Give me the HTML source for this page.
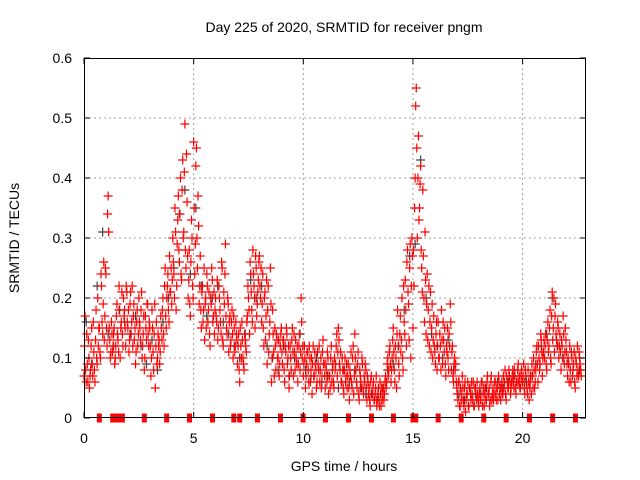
<!DOCTYPE html>
<html><head><meta charset="utf-8">
<style>
html,body{margin:0;padding:0;background:#fff;}
svg{display:block;font-family:"Liberation Sans",sans-serif;}
</style></head>
<body>
<svg id="chart" width="640" height="480" viewBox="0 0 640 480" xmlns="http://www.w3.org/2000/svg">
<rect width="640" height="480" fill="#fff"/>
<text x="344" y="32" font-size="14" text-anchor="middle">Day 225 of 2020, SRMTID for receiver pngm</text>
<g id="grid"></g>
<g id="grey"></g>
<g id="red"></g>
<g id="axes"></g>
<text x="344" y="471" font-size="14" text-anchor="middle">GPS time / hours</text>
<text transform="translate(19,238) rotate(-90)" font-size="14" text-anchor="middle">SRMTID / TECUs</text>
</svg>
<script>
const xTicks=[0,5,10,15,20];
const yTicks=[0,0.1,0.2,0.3,0.4,0.5,0.6];
const yTickLabels=["0","0.1","0.2","0.3","0.4","0.5","0.6"];
const redStart=0, redStep=0.05;
const redValues=[
.07,.17,.06,.09,.13,.05,.08,.15,.07,.11,.06,.18,.09,.12,.15,.10,.22,.14,.26,.17,
.24,.12,.37,.15,.10,.16,.11,.14,.09,.12,.19,.13,.22,.10,.16,.14,.20,.18,.12,.21,
.15,.11,.19,.14,.22,.17,.13,.09,.16,.12,.20,.15,.18,.10,.14,.08,.17,.13,.19,.12,
.15,.07,.18,.11,.14,.05,.16,.10,.12,.09,.17,.13,.20,.12,.25,.15,.22,.18,.27,.21,
.19,.30,.24,.35,.18,.29,.37,.26,.40,.23,.43,.31,.49,.25,.36,.20,.28,.17,.33,.22,
.46,.24,.42,.30,.37,.19,.27,.15,.22,.18,.13,.20,.24,.16,.21,.12,.19,.23,.17,.14,
.20,.16,.13,.22,.18,.14,.25,.12,.19,.29,.15,.20,.11,.17,.13,.18,.10,.15,.12,.14,
.09,.14,.06,.12,.16,.10,.08,.13,.11,.17,.20,.14,.24,.18,.28,.22,.15,.25,.19,.23,
.27,.20,.16,.24,.12,.21,.17,.09,.22,.14,.25,.06,.18,.11,.15,.08,.13,.10,.07,.12,
.15,.09,.13,.06,.11,.14,.10,.05,.12,.08,.15,.07,.11,.13,.09,.06,.12,.08,.20,.10,
.07,.12,.05,.09,.11,.06,.10,.08,.04,.12,.07,.09,.05,.11,.08,.06,.10,.07,.13,.09,
.05,.08,.11,.04,.07,.10,.06,.09,.05,.08,.12,.07,.15,.09,.11,.06,.08,.04,.10,.07,
.05,.09,.03,.07,.06,.10,.04,.14,.08,.05,.11,.03,.07,.05,.09,.04,.06,.08,.03,.06,
.05,.02,.07,.04,.06,.03,.05,.02,.04,.03,.06,.02,.03,.05,.04,.07,.06,.10,.08,.12,
.06,.10,.15,.08,.12,.05,.18,.09,.14,.11,.20,.08,.16,.23,.12,.28,.19,.25,.10,.30,
.15,.22,.40,.55,.30,.47,.35,.42,.25,.38,.20,.31,.14,.24,.18,.12,.21,.15,.10,.17,
.11,.14,.08,.16,.10,.12,.18,.09,.13,.15,.07,.11,.10,.14,.19,.08,.12,.06,.10,.09,
.05,.03,.06,.02,.04,.07,.03,.05,.01,.04,.06,.02,.05,.03,.04,.06,.02,.05,.03,.04,
.02,.05,.03,.06,.04,.02,.05,.03,.07,.04,.02,.06,.03,.05,.04,.06,.03,.05,.07,.04,
.03,.06,.04,.05,.08,.03,.06,.05,.07,.04,.06,.08,.05,.07,.04,.06,.09,.07,.05,.08,
.06,.09,.04,.07,.05,.08,.03,.06,.04,.07,.10,.05,.08,.12,.06,.10,.09,.13,.07,.11,
.10,.14,.08,.16,.12,.18,.09,.21,.15,.11,.19,.13,.16,.10,.14,.08,.12,.17,.09,.15,
.11,.07,.09,.12,.06,.10,.08,.11,.05,.09,.12,.07,.10,.08
];
const red2Start=0.025, red2Step=0.05;
const red2Values=[
.12,.08,.14,.06,.10,.07,.12,.09,.16,.08,.13,.10,.20,.15,.11,.24,.16,.19,.13,.25,
.15,.34,.31,.13,.11,.14,.12,.15,.10,.17,.14,.11,.18,.15,.21,.12,.17,.15,.22,.16,
.18,.13,.21,.16,.12,.19,.15,.11,.18,.14,.16,.13,.21,.12,.17,.10,.15,.19,.14,.16,
.12,.10,.15,.08,.19,.12,.09,.14,.13,.11,.15,.18,.14,.22,.17,.20,.24,.16,.21,.25,
.23,.26,.20,.31,.22,.33,.28,.34,.24,.38,.30,.41,.28,.44,.27,.23,.19,.26,.30,.20,
.35,.29,.45,.25,.32,.22,.18,.21,.16,.25,.19,.15,.22,.18,.14,.20,.25,.16,.21,.18,
.17,.23,.15,.20,.16,.26,.13,.21,.24,.17,.14,.19,.16,.12,.16,.14,.17,.11,.16,.13,
.12,.08,.15,.10,.13,.09,.14,.12,.16,.22,.18,.26,.21,.16,.24,.20,.27,.17,.21,.26,
.22,.25,.19,.15,.20,.13,.23,.18,.11,.16,.19,.10,.14,.07,.12,.14,.10,.13,.09,.14,
.11,.13,.08,.12,.15,.09,.12,.07,.10,.13,.11,.14,.08,.10,.12,.09,.14,.11,.16,.12,
.09,.10,.07,.11,.08,.12,.06,.10,.09,.07,.11,.08,.06,.09,.12,.08,.05,.11,.09,.07,
.09,.06,.10,.07,.05,.12,.08,.06,.10,.09,.14,.11,.13,.08,.06,.10,.05,.08,.06,.09,
.07,.05,.08,.11,.05,.12,.07,.10,.06,.09,.04,.08,.06,.10,.05,.07,.09,.05,.07,.04,
.03,.06,.04,.05,.03,.04,.07,.03,.05,.02,.04,.05,.04,.03,.06,.05,.09,.07,.11,.09,
.08,.13,.11,.06,.10,.14,.12,.07,.17,.13,.10,.22,.14,.18,.26,.21,.13,.29,.22,.27,
.28,.35,.52,.45,.40,.33,.39,.28,.21,.27,.16,.23,.19,.13,.22,.16,.11,.19,.13,.12,
.09,.16,.12,.10,.14,.08,.13,.16,.11,.09,.12,.15,.08,.12,.16,.11,.07,.09,.08,.06,
.04,.06,.02,.05,.03,.05,.02,.06,.03,.04,.02,.05,.04,.06,.03,.02,.05,.04,.06,.03,
.04,.03,.06,.02,.05,.04,.03,.06,.04,.05,.03,.07,.04,.03,.06,.04,.05,.03,.06,.05,
.05,.04,.07,.06,.04,.07,.05,.08,.06,.05,.07,.06,.08,.05,.06,.08,.06,.05,.07,.06,
.07,.05,.08,.06,.04,.06,.05,.07,.09,.05,.08,.06,.11,.09,.12,.08,.14,.11,.10,.13,
.12,.09,.13,.11,.15,.10,.17,.13,.20,.17,.14,.12,.15,.12,.11,.13,.10,.14,.11,.13,
.09,.10,.06,.08,.11,.07,.09,.06,.10,.07,.08,.11,.09,.07
];
const greyStart=0.1, greyStep=0.25;
const greyValues=[
.16,.09,.22,.31,.14,.12,.18,.16,.14,.17,.12,.09,.13,.08,.16,.20,
.25,.34,.38,.24,.35,.22,.17,.20,.22,.16,.14,.12,.10,.14,.23,.20,
.22,.12,.10,.08,.12,.07,.10,.14,.08,.07,.10,.06,.07,.09,.05,.08,
.06,.08,.05,.04,.04,.03,.05,.08,.09,.12,.18,.27,.29,.43,.20,.14,
.12,.10,.13,.08,.04,.03,.05,.04,.04,.05,.03,.06,.05,.06,.07,.06,
.06,.07,.09,.12,.14,.20,.12,.10,.09,.11,.08
];
const zeroTimes=[0.70,1.31,1.51,1.63,1.75,2.75,3.77,4.81,5.86,6.83,7.10,7.91,8.96,9.99,11.01,12.06,13.11,14.11,15.0,15.13,16.15,17.2,18.23,19.25,20.31,21.37,22.41];

const L=84,R=586,T=58,B=418;
const xs=t=>L+t*21.93;
const ys=v=>B-v*600;
const NS="http://www.w3.org/2000/svg";
function mk(tag,parent,attrs){const e=document.createElementNS(NS,tag);for(const k in attrs)e.setAttribute(k,attrs[k]);parent.appendChild(e);return e;}
const grid=document.getElementById('grid'),axes=document.getElementById('axes');
yTicks.forEach((v,i)=>{
  const y=ys(v);
  if(v>0&&v<0.6){const g=mk('line',grid,{x1:L,x2:R,y1:y,y2:y,stroke:'#a0a0a0','stroke-dasharray':'2,3','stroke-width':1});
  
  }
  mk('line',axes,{x1:L,x2:L+6,y1:y,y2:y,stroke:'#000'});
  mk('line',axes,{x1:R-6,x2:R,y1:y,y2:y,stroke:'#000'});
  const tx=mk('text',axes,{x:72,y:y+5,'font-size':14,'text-anchor':'end'});
  tx.textContent=yTickLabels[i];
  
  
});
xTicks.forEach(t=>{
  const x=xs(t);
  if(t>0){const g=mk('line',grid,{x1:x,x2:x,y1:T,y2:B,stroke:'#a0a0a0','stroke-dasharray':'2,3','stroke-width':1});
  
  }
  mk('line',axes,{x1:x,x2:x,y1:B,y2:B-6,stroke:'#000'});
  mk('line',axes,{x1:x,x2:x,y1:T,y2:T+6,stroke:'#000'});
  const tx=mk('text',axes,{x:x,y:443,'font-size':14,'text-anchor':'middle'});
  tx.textContent=String(t);
  
  
});
const border=mk('rect',axes,{x:L+0.5,y:T+0.5,width:R-L-1,height:B-T-1,fill:'none',stroke:'#000'});



function plus(parent,x,y,color){
  return mk('path',parent,{d:`M${x-4.5},${y}H${x+4.5}M${x},${y-4.5}V${y+4.5}`,stroke:color,'stroke-width':1.2,fill:'none'});
}
const greyG=document.getElementById('grey'),redG=document.getElementById('red');
greyValues.forEach((v,i)=>{
  const p=plus(greyG,xs(greyStart+i*greyStep),ys(v),'#404040');
  
  
});
redValues.forEach((v,i)=>{
  const p=plus(redG,xs(redStart+i*redStep),ys(v),'#ff0000');
  
  
});
red2Values.forEach((v,i)=>{
  const p=plus(redG,xs(red2Start+i*red2Step),ys(v),'#ff0000');
  
  
});
zeroTimes.forEach(t=>{
  const r=mk('rect',redG,{x:xs(t)-2.5,y:B-4.5,width:5,height:9,fill:'#ff0000'});
  
  
});
</script>
</body></html>
